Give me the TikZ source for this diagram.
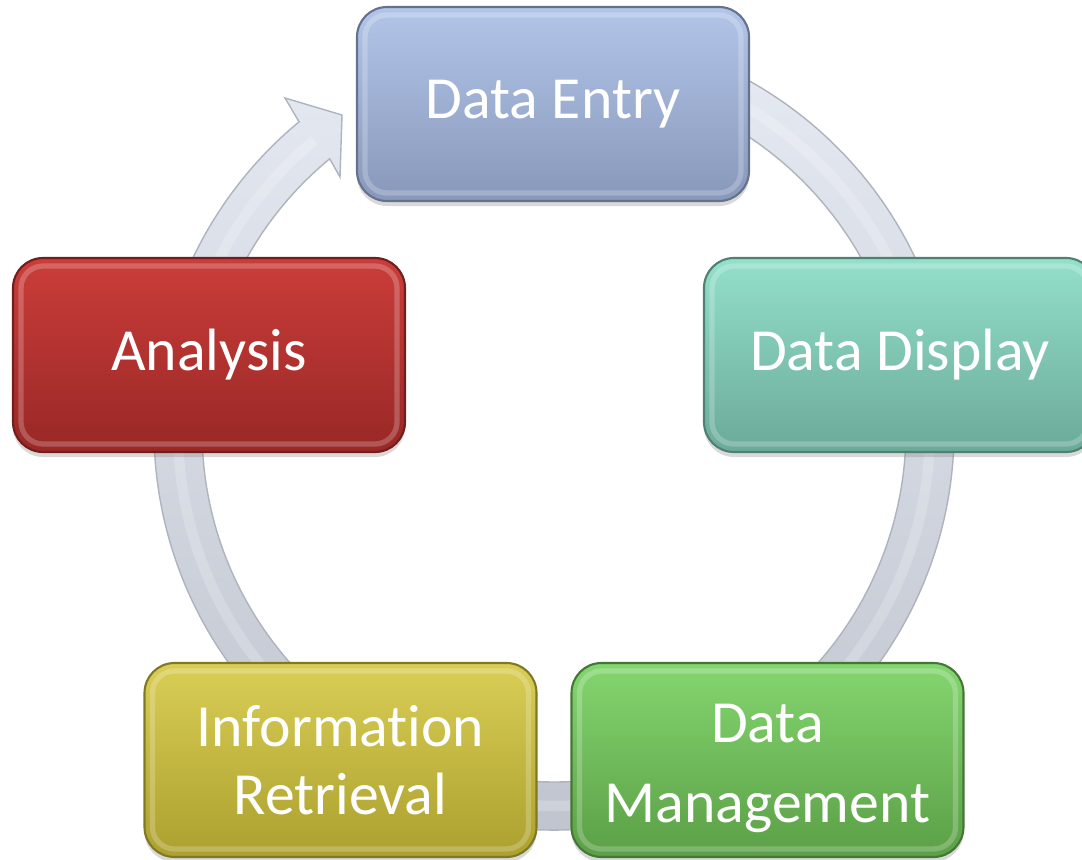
\documentclass[tikz,border=0pt]{standalone}
\usepackage{fontspec}
\setmainfont[Ligatures=NoCommon]{Carlito}
\usetikzlibrary{shadows,calc}

\definecolor{entryTop}{HTML}{B2C5E8}
\definecolor{entryBot}{HTML}{8898BB}
\definecolor{displayTop}{HTML}{93E0CB}
\definecolor{displayBot}{HTML}{6BAA98}
\definecolor{manageTop}{HTML}{84D670}
\definecolor{manageBot}{HTML}{5B9F46}
\definecolor{retrieveTop}{HTML}{D9CE55}
\definecolor{retrieveBot}{HTML}{ACA02F}
\definecolor{analysisTop}{HTML}{CB3D3A}
\definecolor{analysisBot}{HTML}{982826}
\definecolor{ringHell}{HTML}{E8ECF5}
\definecolor{ringDunkel}{HTML}{BEC3CD}
\definecolor{ringRand}{HTML}{AEB3BE}

\tikzset{
	stufe/.style 2 args={draw=#2!75!black, line width=0.6pt,
		rounded corners=0.3cm, minimum width=3.92cm, minimum height=1.94cm,
		inner sep=0pt, top color=#1, bottom color=#2, text=white,
		align=center, font=\fontsize{17}{19.5}\selectfont,
		drop shadow={opacity=0.3, shadow xshift=0pt, shadow yshift=-0.05cm},
		path picture={\draw[white, opacity=0.22, line width=1.5pt,
			rounded corners=0.22cm]
			([shift={(0.08,-0.08)}]path picture bounding box.north west) rectangle
			([shift={(-0.08,0.08)}]path picture bounding box.south east);}},
	ring/.style={top color=ringHell, bottom color=ringDunkel, draw=ringRand,
		line width=0.4pt}
}

\begin{document}
\begin{tikzpicture}
	\useasboundingbox (0,0) rectangle (10.82,8.59);
	% Ring im Hintergrund
	\coordinate (mitte) at (5.54,4.29);
	\path[ring] ($(mitte)+(129.6:3.52)$) arc[start angle=129.6, end angle=460,
	radius=3.52] -- ($(mitte)+(460:4.0)$) arc[start angle=460,
	end angle=129.6, radius=4.0] -- (2.85,7.61) -- (3.42,7.44) -- (3.40,6.82)
	-- cycle;
	\draw[white, opacity=0.2, line width=3pt] ($(mitte)+(129.6:3.76)$)
	arc[start angle=129.6, end angle=460, radius=3.76];
	% Stufen
	\node[stufe={entryTop}{entryBot}] (entry) at (5.53, 7.55) {Data Entry};
	\node[stufe={displayTop}{displayBot}] (display) at (9.00, 5.04)
	{Data Display};
	\node[stufe={manageTop}{manageBot}] (manage) at (7.675, 0.99)
	{\raisebox{-0.085cm}[\height][\depth]{\parbox{3.9cm}{\centering
	Data\\[3.4pt]Management}}};
	\node[stufe={retrieveTop}{retrieveBot}] (retrieve) at (3.405, 0.99)
	{Information\\Retrieval};
	\node[stufe={analysisTop}{analysisBot}] (analysis) at (2.09, 5.04)
	{Analysis};
\end{tikzpicture}
\end{document}
